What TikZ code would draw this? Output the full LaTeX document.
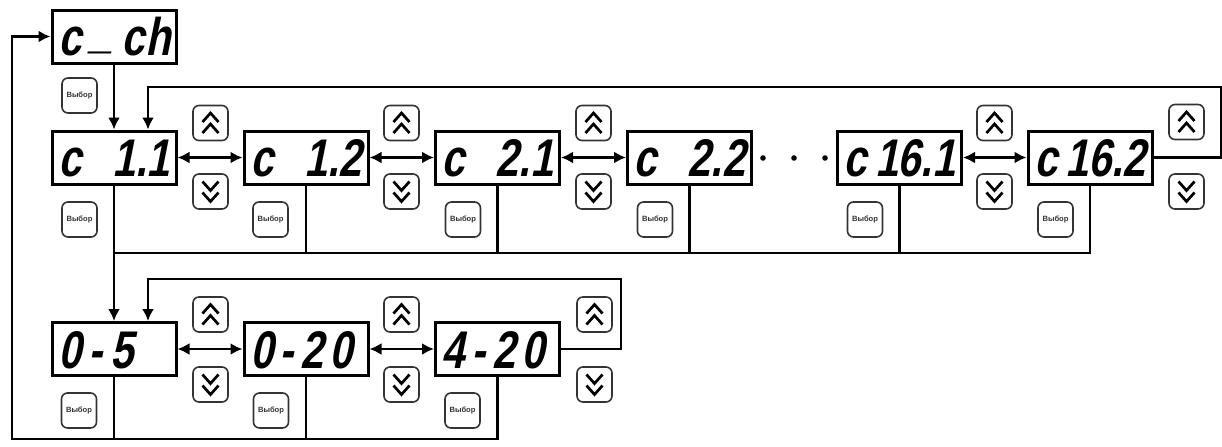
\documentclass[tikz,border=0pt]{standalone}
\usepackage{fontspec}
\setmainfont{Liberation Sans}
\newfontfamily\segfont[FakeSlant=0.2,FakeStretch=0.78]{Liberation Sans}
\usetikzlibrary{arrows.meta,calc}
\newcommand\undsc{\raisebox{.15em}{\_}}
\newcommand\upbtn[3]{%
  \node[btn] (#1) at (#2,#3) {};
  \draw[chev] ([shift={(-8,-1)}]#1.center) -- ([shift={(0,-10)}]#1.center) -- ([shift={(8,-1)}]#1.center);
  \draw[chev] ([shift={(-8,10)}]#1.center) -- ([shift={(0,1)}]#1.center) -- ([shift={(8,10)}]#1.center);}
\newcommand\dnbtn[3]{%
  \node[btn] (#1) at (#2,#3) {};
  \draw[chev] ([shift={(-8,1)}]#1.center) -- ([shift={(0,10)}]#1.center) -- ([shift={(8,1)}]#1.center);
  \draw[chev] ([shift={(-8,-10)}]#1.center) -- ([shift={(0,-1)}]#1.center) -- ([shift={(8,-10)}]#1.center);}
\begin{document}
\begin{tikzpicture}[x=0.5pt,y=-0.5pt,
 disp/.style={draw,line width=1.5pt,minimum width=62pt,minimum height=26.5pt,inner xsep=3pt,inner ysep=0pt,text width=56pt,align=left,text height=19pt,text depth=0pt,font=\segfont\bfseries\fontsize{26.5}{26.5}\selectfont},
 btn/.style={draw=black!80,line width=0.8pt,rounded corners=3pt,minimum width=17.5pt,minimum height=17.5pt,inner sep=0pt},
 sel/.style={btn,font=\bfseries\fontsize{3.8}{4}\selectfont,text=black!80},
 chev/.style={line width=1.35pt,line join=miter},
 ln/.style={line width=1.4pt},
 arr/.style={ln,-{Latex[length=6pt,width=6pt]}},
 darr/.style={ln,{Latex[length=6pt,width=6pt]}-{Latex[length=6pt,width=6pt]}},
]
\useasboundingbox (0,0) rectangle (1222,446);

% displays
\node[disp] (cch) at (114,36.5) {c\kern4.5pt\undsc\kern4.5pt c\kern0.5pt h};
\node[disp] (c11) at (114,157.5) {c\hfill 1.1};
\node[disp] (c12) at (306,157.5) {c\hfill 1.2};
\node[disp] (c21) at (497.5,157.5) {c\hfill 2.1};
\node[disp] (c22) at (689.5,157.5) {c\hfill 2.2};
\node[disp] (c161) at (899.5,157.5) {c\hfill 16.1};
\node[disp] (c162) at (1090,157.5) {c\hfill 16.2};
\node[disp] (r05) at (114,349) {0\kern4pt-\kern4pt5};
\node[disp] (r020) at (306,349) {0\kern3.5pt-\kern3.5pt2\kern3pt0};
\node[disp] (r420) at (497.5,349) {4\kern3.5pt-\kern3.5pt2\kern3pt0};

% select buttons
\node[sel] (s0) at (79.5,95.5) {Выбор};
\node[sel] (s11) at (79.5,219.5) {Выбор};
\node[sel] (s12) at (270.5,219.5) {Выбор};
\node[sel] (s21) at (463,219.5) {Выбор};
\node[sel] (s22) at (655,219.5) {Выбор};
\node[sel] (s161) at (865,219.5) {Выбор};
\node[sel] (s162) at (1055.5,219.5) {Выбор};
\node[sel] (s05) at (79,410.5) {Выбор};
\node[sel] (s020) at (271,410.5) {Выбор};
\node[sel] (s420) at (462.5,410.5) {Выбор};

% up / down buttons
\upbtn{u1}{210.5}{123}\dnbtn{d1}{210.5}{191.5}
\upbtn{u2}{401.5}{123}\dnbtn{d2}{401.5}{191.5}
\upbtn{u3}{593.5}{123}\dnbtn{d3}{593.5}{191.5}
\upbtn{u4}{994.5}{123}\dnbtn{d4}{994.5}{191.5}
\upbtn{u5}{1186.5}{122}\dnbtn{d5}{1186.5}{191.5}
\upbtn{u6}{210.5}{314.5}\dnbtn{d6}{210.5}{384.5}
\upbtn{u7}{401.5}{314.5}\dnbtn{d7}{401.5}{384.5}
\upbtn{u8}{594.5}{314.5}\dnbtn{d8}{594.5}{384.5}

% dots
\fill (763,158) circle (1.4pt);
\fill (794,158) circle (1.4pt);
\fill (825,158) circle (1.4pt);

% coordinates
\coordinate (tR) at (1221,87);
\coordinate (tL) at (148,87);
\coordinate (bR) at (621,279);
\coordinate (bL) at (148,279);
\coordinate (busA) at (114,253);
\coordinate (busB) at (12,439);

% connectors
\draw[arr] (cch.south) -- (c11.north);
\draw[darr] (c11.east) -- (c12.west);
\draw[darr] (c12.east) -- (c21.west);
\draw[darr] (c21.east) -- (c22.west);
\draw[darr] (c161.east) -- (c162.west);
\draw[darr] (r05.east) -- (r020.west);
\draw[darr] (r020.east) -- (r420.west);
\draw[arr] (c162.east) -| (tR) -- (tL) -- (tL |- c11.north);
\draw[arr] (r420.east) -| (bR) -- (bL) -- (bL |- r05.north);
\draw[ln] (c162.south) |- (busA);
\draw[ln] (c12.south) -- (c12.south |- busA);
\draw[ln] (c21.south) -- (c21.south |- busA);
\draw[ln] (c22.south) -- (c22.south |- busA);
\draw[ln] (c161.south) -- (c161.south |- busA);
\draw[arr] (c11.south) -- (r05.north);
\draw[arr] (r420.south) |- (busB) |- (cch.west);
\draw[ln] (r05.south) -- (r05.south |- busB);
\draw[ln] (r020.south) -- (r020.south |- busB);
\end{tikzpicture}
\end{document}
